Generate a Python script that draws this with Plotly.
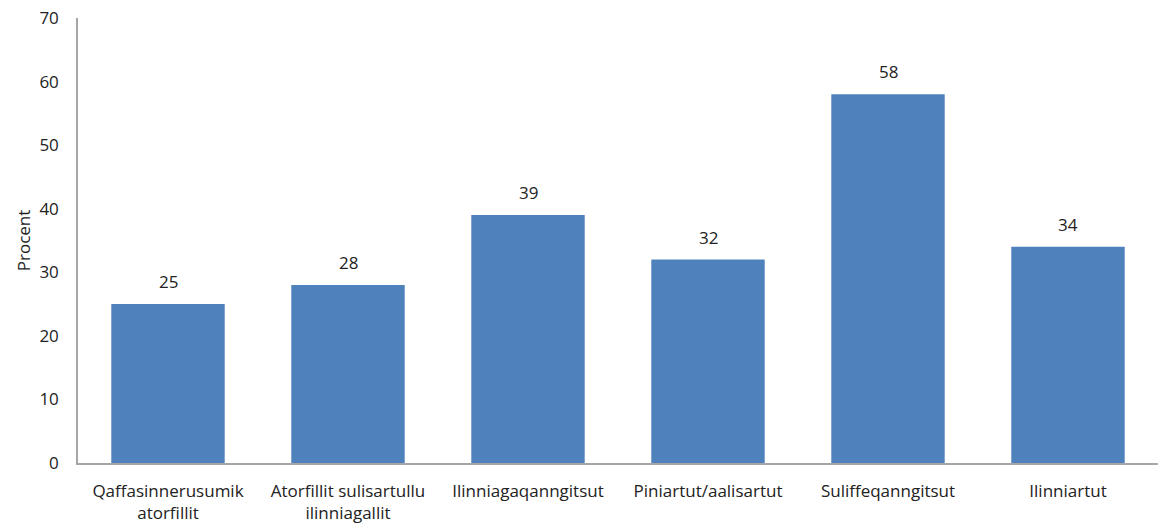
import plotly.graph_objects as go

categories = [
    "Qaffasinnerusumik<br>atorfillit",
    "Atorfillit sulisartullu<br>ilinniagallit",
    "Ilinniagaqanngitsut",
    "Piniartut/aalisartut",
    "Suliffeqanngitsut",
    "Ilinniartut",
]
values = [25, 28, 39, 32, 58, 34]
y_ticks = [0, 10, 20, 30, 40, 50, 60, 70]

font_family = "Open Sans, Liberation Sans, sans-serif"
text_color = "#222222"

fig = go.Figure(
    go.Bar(
        x=categories,
        y=values,
        marker=dict(color="#4F81BD", line=dict(width=0)),
        hoverinfo="x+y",
    )
)

# value labels floated a little above each bar
for cat, val in zip(categories, values):
    fig.add_annotation(
        x=cat,
        y=val,
        text=str(val),
        showarrow=False,
        yanchor="bottom",
        yshift=9,
        font=dict(size=17, color=text_color, family=font_family),
    )

fig.update_layout(
    width=1158,
    height=524,
    margin=dict(l=78, r=0, t=18, b=61),
    paper_bgcolor="white",
    plot_bgcolor="white",
    bargap=0.37,
    showlegend=False,
    font=dict(family=font_family, size=17, color=text_color),
)

fig.update_xaxes(
    showline=True,
    linecolor="#A6A6A6",
    linewidth=1.5,
    showgrid=False,
    ticks="",
    ticklabelstandoff=12,
    tickfont=dict(size=17, color=text_color),
)

fig.update_yaxes(
    range=[0, 70],
    tickvals=y_ticks,
    showline=True,
    linecolor="#A6A6A6",
    linewidth=1.5,
    showgrid=False,
    zeroline=False,
    ticks="",
    ticklabelstandoff=14,
    tickfont=dict(size=17, color=text_color),
    title=dict(text="Procent", font=dict(size=17, color=text_color), standoff=4),
)

fig.write_html("out.html")
